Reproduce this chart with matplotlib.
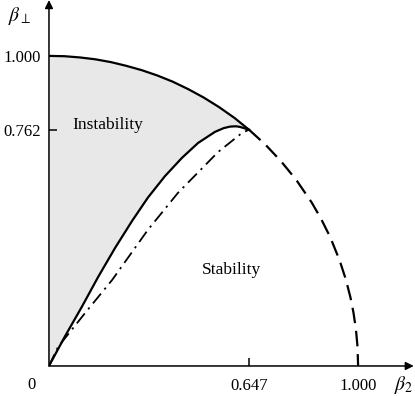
import matplotlib.pyplot as plt

plt.rcParams['font.family'] = ['Liberation Serif', 'DejaVu Serif']
plt.rcParams['mathtext.fontset'] = 'stix'

# Boundary circle (solid part up to 0.647, dashed beyond)
arc_x = [0.0, 0.05, 0.10, 0.15, 0.20, 0.25, 0.30, 0.35, 0.40, 0.45, 0.50, 0.55, 0.60, 0.647]
arc_y = [1.000, 0.999, 0.995, 0.989, 0.980, 0.968, 0.954, 0.937, 0.917, 0.893, 0.866, 0.835, 0.800, 0.762]
dash_x = [0.647, 0.70, 0.75, 0.80, 0.85, 0.88, 0.91, 0.94, 0.96, 0.975, 0.985, 0.993, 0.998, 1.0]
dash_y = [0.762, 0.714, 0.661, 0.600, 0.527, 0.475, 0.415, 0.341, 0.280, 0.222, 0.172, 0.118, 0.063, 0.0]

# Lower solid curve (instability / stability border)
low_x = [0.0, 0.052, 0.107, 0.159, 0.214, 0.269, 0.320, 0.375, 0.430, 0.482, 0.537, 0.565,
         0.586, 0.605, 0.618, 0.634, 0.647]
low_y = [0.0, 0.096, 0.192, 0.287, 0.381, 0.468, 0.543, 0.612, 0.671, 0.719, 0.755, 0.767,
         0.772, 0.773, 0.771, 0.766, 0.762]

# Dash-dot curve
dd_x = [0.0, 0.029, 0.117, 0.204, 0.320, 0.417, 0.547, 0.625, 0.647]
dd_y = [0.0, 0.061, 0.171, 0.277, 0.439, 0.558, 0.690, 0.752, 0.762]

xticks = [0.647, 1.0]
xlabels = ['0.647', '1.000']
yticks = [0.762, 1.0]
ylabels = ['0.762', '1.000']

fig = plt.figure(figsize=(4.15, 3.96), dpi=100)
ax = fig.add_axes([0.118, 0.0758, 0.879, 0.924])
ax.set_xlim(0, 1.18)
ax.set_ylim(0, 1.18)

# shaded instability region
ax.fill([0.0] + arc_x + low_x[::-1], [0.0] + arc_y + low_y[::-1],
        color='#e8e8e8', lw=0, zorder=1)

ax.plot(arc_x, arc_y, color='black', lw=1.6, zorder=3)
ax.plot(dash_x, dash_y, color='black', lw=1.6, dashes=(7, 3.5), zorder=3)
ax.plot(low_x, low_y, color='black', lw=1.6, zorder=3)
ax.plot(dd_x, dd_y, color='black', lw=1.3, dashes=(7, 3, 1.2, 3), zorder=3)

# axes with arrows
for s in ['top', 'right', 'left', 'bottom']:
    ax.spines[s].set_visible(False)
ax.annotate('', xy=(1.18, 0), xytext=(0, 0),
            arrowprops=dict(arrowstyle='-|>', color='black', lw=1.1,
                            mutation_scale=12, shrinkA=0, shrinkB=0))
ax.annotate('', xy=(0, 1.18), xytext=(0, 0),
            arrowprops=dict(arrowstyle='-|>', color='black', lw=1.1,
                            mutation_scale=12, shrinkA=0, shrinkB=0))

ax.set_xticks(xticks)
ax.set_xticklabels(xlabels, fontsize=12)
ax.set_yticks(yticks)
ax.set_yticklabels(ylabels, fontsize=12)
ax.tick_params(direction='in', length=6, width=1.1)
ax.tick_params(axis='x', pad=9)
ax.tick_params(axis='y', pad=6)
ax.xaxis.get_major_ticks()[1].tick1line.set_visible(False)
ax.yaxis.get_major_ticks()[1].tick1line.set_visible(False)

ax.text(-0.055, -0.062, '0', fontsize=12, ha='center', va='center', clip_on=False)
ax.text(1.146, -0.062, r'$\beta_2$', fontsize=14, ha='center', va='center', clip_on=False)
ax.text(-0.094, 1.13, r'$\beta_\perp$', fontsize=14, ha='center', va='center', clip_on=False)

ax.text(0.19, 0.778, 'Instability', fontsize=12.5, ha='center', va='center')
ax.text(0.592, 0.31, 'Stability', fontsize=12.5, ha='center', va='center')

fig.savefig('out.png', dpi=100)
